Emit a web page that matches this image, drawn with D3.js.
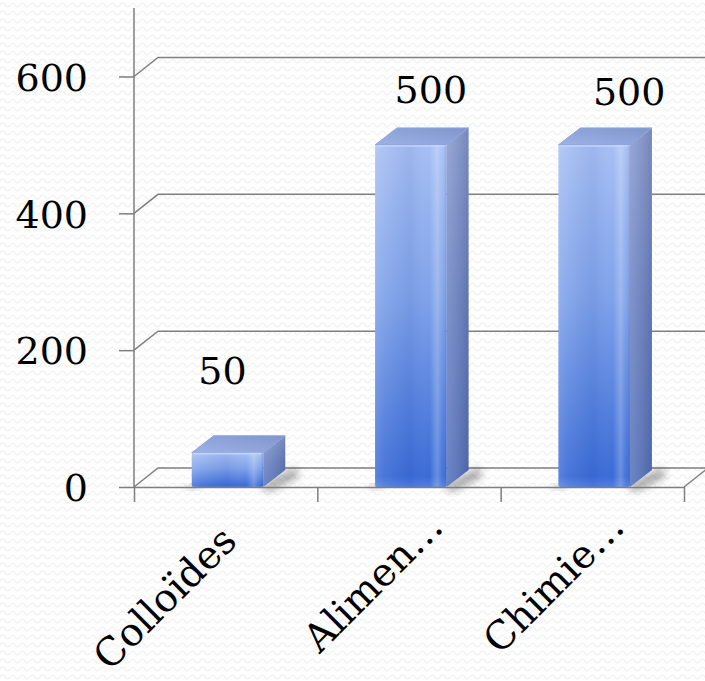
<!DOCTYPE html>
<html>
<head>
<meta charset="utf-8">
<script src="https://cdn.jsdelivr.net/npm/d3@7"></script>
<style>
  html, body { margin: 0; padding: 0; background: #ffffff; }
  svg { display: block; }
  .num { font-family: "DejaVu Serif", "Liberation Serif", serif; fill: #000; }
</style>
</head>
<body>
<svg id="chart" width="705" height="681"></svg>
<script>
// ---- data ----
const categories = ["Colloïdes", "Alimen…", "Chimie…"];
const values = [50, 500, 500];
const yTicks = [0, 200, 400, 600];
const yTickLabels = ["0", "200", "400", "600"];

// ---- layout ----
const W = 705, H = 681;
const floorY = 487, axisX = 134, plotRight = 684;
const wallDX = 24, wallDY = -19;      // depth of the back wall / floor
const barDX = 22, barDY = -17;        // depth of each column
const axisTopY = 8;
const fontSize = 38;
const catFontSize = 39;
// per-label placement tweaks (dx, dy)
const catLabelNudge = [[13, 56], [36, 42], [34, 42]];
const valueLabelNudge = [[-16, -27], [9, 0], [24, 2]];

const svg = d3.select("#chart");
const defs = svg.append("defs");

// faint wavy background texture
const pat = defs.append("pattern").attr("id", "wave")
  .attr("width", 10).attr("height", 8).attr("patternUnits", "userSpaceOnUse");
pat.append("path")
  .attr("d", "M0,5 Q2.5,1 5,5 T10,5")
  .attr("fill", "none").attr("stroke", "#efefef").attr("stroke-width", 1.2);

svg.append("rect").attr("width", W).attr("height", H).attr("fill", "#fff");
svg.append("rect").attr("width", W).attr("height", H).attr("fill", "url(#wave)");

// gradients for the columns
function linGrad(id, x1, y1, x2, y2, stops) {
  const g = defs.append("linearGradient").attr("id", id)
    .attr("x1", x1).attr("y1", y1).attr("x2", x2).attr("y2", y2);
  stops.forEach(s => g.append("stop").attr("offset", s[0])
    .attr("stop-color", s[1]).attr("stop-opacity", s[2] == null ? 1 : s[2]));
}
linGrad("frontV", 0, 0, 0, 1, [[0, "#a6bff3"], [0.45, "#7ea1e9"], [0.97, "#3a6bd6"], [1, "#4f7fe0"]]);
linGrad("frontH", 0, 0, 1, 0, [
  [0, "#ffffff", 0.16], [0.12, "#ffffff", 0.08], [0.5, "#10308a", 0.06],
  [0.76, "#ffffff", 0], [0.87, "#ffffff", 0.24], [0.95, "#ffffff", 0.04], [1, "#10206a", 0.18]]);
linGrad("sideV", 0, 0, 0, 1, [[0, "#8b9cd0"], [0.5, "#6d84c3"], [1, "#5773bb"]]);
linGrad("sideH", 0, 0, 1, 0, [[0, "#ffffff", 0.12], [1, "#0a1a50", 0.16]]);
linGrad("topG", 0, 1, 1, 0, [[0, "#9db2e6"], [1, "#7f95cd"]]);

const blur = defs.append("filter").attr("id", "soft")
  .attr("x", "-50%").attr("y", "-50%").attr("width", "200%").attr("height", "200%");
blur.append("feGaussianBlur").attr("stdDeviation", 4);

// ---- scales ----
const x = d3.scaleBand().domain(categories).range([axisX, plotRight]).padding(0);
const y = d3.scaleLinear().domain([0, 600]).range([floorY, 76.5]);
const bw = x.bandwidth();

const gridColor = "#7f7f7f";

// back-wall gridlines with their diagonal lead-ins from the axis
const grid = svg.append("g");
yTicks.forEach(t => {
  const yy = y(t);
  grid.append("path")
    .attr("d", `M${axisX},${yy} L${axisX + wallDX},${yy + wallDY} L${W + 10},${yy + wallDY}`)
    .attr("fill", "none").attr("stroke", gridColor).attr("stroke-width", 1.5);
});
// right edge of the floor
grid.append("path")
  .attr("d", `M${plotRight},${floorY} L${plotRight + wallDX},${floorY + wallDY}`)
  .attr("stroke", gridColor).attr("stroke-width", 1.5);

// ---- columns ----
const bars = svg.append("g");
categories.forEach((c, i) => {
  const v = values[i];
  const fx = x(c) + bw * 0.315;
  const fw = bw * 0.39;
  const yt = y(v), yb = y(0);
  const g = bars.append("g");
  // soft shadow on the floor behind/right of the column
  g.append("path")
    .attr("d", `M${fx + fw - 4},${yb} L${fx + fw + barDX + 10},${yb + barDY - 2} L${fx + fw + barDX + 14},${yb + barDY + 6} L${fx + fw + 6},${yb + 4} Z`)
    .attr("fill", "#000").attr("opacity", 0.4).attr("filter", "url(#soft)");
  g.append("path")
    .attr("d", `M${fx - 6},${yb - 2} L${fx + 8},${yb - 2} L${fx + 8},${yb + 2} L${fx - 6},${yb + 2} Z`)
    .attr("fill", "#000").attr("opacity", 0.3).attr("filter", "url(#soft)");
  // side face
  const side = `M${fx + fw},${yt} L${fx + fw + barDX},${yt + barDY} L${fx + fw + barDX},${yb + barDY} L${fx + fw},${yb} Z`;
  g.append("path").attr("d", side).attr("fill", "url(#sideV)");
  g.append("path").attr("d", side).attr("fill", "url(#sideH)");
  // top face
  g.append("path")
    .attr("d", `M${fx},${yt} L${fx + barDX},${yt + barDY} L${fx + fw + barDX},${yt + barDY} L${fx + fw},${yt} Z`)
    .attr("fill", "url(#topG)")
    .attr("stroke", "#8ea4da").attr("stroke-width", 1).attr("stroke-linejoin", "round");
  // front face
  g.append("rect").attr("x", fx).attr("y", yt).attr("width", fw).attr("height", yb - yt)
    .attr("rx", 2).attr("fill", "url(#frontV)");
  g.append("rect").attr("x", fx).attr("y", yt).attr("width", fw).attr("height", yb - yt)
    .attr("rx", 2).attr("fill", "url(#frontH)");
  // light bevel along the top edge of the front face
  g.append("line").attr("x1", fx + 2).attr("x2", fx + fw - 2)
    .attr("y1", yt + 1).attr("y2", yt + 1)
    .attr("stroke", "#c8d8fa").attr("stroke-width", 1.5).attr("opacity", 0.8);
});

// ---- axes ----
// vertical axis
svg.append("line").attr("x1", axisX).attr("x2", axisX)
  .attr("y1", axisTopY).attr("y2", floorY)
  .attr("stroke", gridColor).attr("stroke-width", 1.5);

const yAxis = d3.axisLeft(y).tickValues(yTicks)
  .tickFormat((d, i) => yTickLabels[i])
  .tickSize(15).tickSizeOuter(0).tickPadding(31);
const gy = svg.append("g").attr("transform", `translate(${axisX},0)`).call(yAxis);
gy.select(".domain").remove();
gy.selectAll(".tick line").attr("stroke", gridColor).attr("stroke-width", 1.5);
gy.selectAll(".tick text").attr("class", "num")
  .style("font-size", fontSize + "px").attr("fill", "#000")
  .attr("dy", "0.36em");

// horizontal axis: floor front edge and tick marks between categories
const xEdges = d3.scaleLinear().domain([0, categories.length]).range([axisX, plotRight]);
const xAxis = d3.axisBottom(xEdges).tickValues(d3.range(categories.length + 1))
  .tickFormat("").tickSize(15).tickSizeOuter(0);
const gx = svg.append("g").attr("transform", `translate(0,${floorY})`).call(xAxis);
gx.select(".domain").attr("stroke", gridColor).attr("stroke-width", 1.5);
gx.selectAll(".tick line").attr("stroke", gridColor).attr("stroke-width", 1.5);

// rotated category labels
svg.append("g").selectAll("text").data(categories).join("text")
  .attr("class", "num")
  .attr("transform", (d, i) => {
    const px = x(d) + bw / 2 + catLabelNudge[i][0];
    const py = floorY + catLabelNudge[i][1];
    return `translate(${px},${py}) rotate(-45)`;
  })
  .attr("text-anchor", "end")
  .style("font-size", catFontSize + "px")
  .text(d => d);

// value labels above the columns
svg.append("g").selectAll("text").data(values).join("text")
  .attr("class", "num")
  .attr("x", (d, i) => x(categories[i]) + bw * 0.315 + bw * 0.195 + barDX / 2 + valueLabelNudge[i][0])
  .attr("y", (d, i) => y(d) + barDY - 25 + valueLabelNudge[i][1])
  .attr("text-anchor", "middle")
  .style("font-size", fontSize + "px")
  .text(d => d);
</script>
</body>
</html>
